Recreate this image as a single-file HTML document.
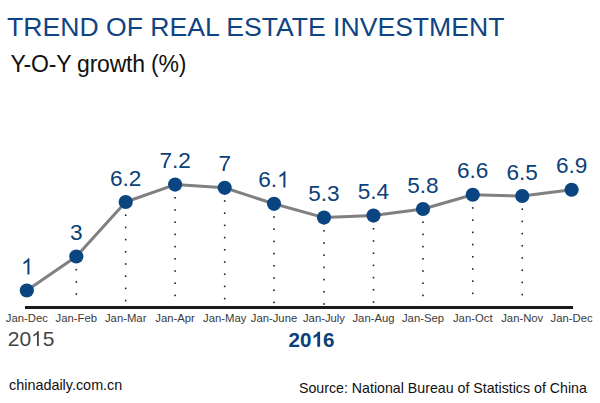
<!DOCTYPE html>
<html><head><meta charset="utf-8"><style>
html,body{margin:0;padding:0;background:#fff;width:600px;height:403px;overflow:hidden;position:relative;font-family:"Liberation Sans",sans-serif}
.t{position:absolute;white-space:nowrap;line-height:1}
.v{position:absolute;width:80px;text-align:center;font-size:22.6px;color:#0b4079;line-height:1;white-space:nowrap}
.xl{position:absolute;width:80px;text-align:center;font-size:11.3px;color:#3a3a3a;line-height:1;white-space:nowrap}
svg{position:absolute;left:0;top:0}
.one{position:relative;-webkit-text-fill-color:transparent}
.one svg{position:absolute;left:0;top:0;width:0.5562em;height:1.1172em;fill:currentColor}
</style></head><body>
<div class="t" style="left:7px;top:14px;font-size:26.6px;letter-spacing:0px;color:#0f4483">TREND OF REAL ESTATE INVESTMENT</div>
<div class="t" style="left:10.5px;top:52.5px;font-size:23px;letter-spacing:-0.2px;color:#111">Y-O-Y growth (%)</div>
<svg width="600" height="403" viewBox="0 0 600 403">
<rect x="75.50" y="268.90" width="1.6" height="1.6" fill="#222"/>
<rect x="75.50" y="281.10" width="1.6" height="1.6" fill="#222"/>
<rect x="75.50" y="293.30" width="1.6" height="1.6" fill="#222"/>
<rect x="124.90" y="214.40" width="1.6" height="1.6" fill="#222"/>
<rect x="124.90" y="226.60" width="1.6" height="1.6" fill="#222"/>
<rect x="124.90" y="238.80" width="1.6" height="1.6" fill="#222"/>
<rect x="124.90" y="251.00" width="1.6" height="1.6" fill="#222"/>
<rect x="124.90" y="263.20" width="1.6" height="1.6" fill="#222"/>
<rect x="124.90" y="275.40" width="1.6" height="1.6" fill="#222"/>
<rect x="124.90" y="287.60" width="1.6" height="1.6" fill="#222"/>
<rect x="124.90" y="299.80" width="1.6" height="1.6" fill="#222"/>
<rect x="174.30" y="197.00" width="1.6" height="1.6" fill="#222"/>
<rect x="174.30" y="209.20" width="1.6" height="1.6" fill="#222"/>
<rect x="174.30" y="221.40" width="1.6" height="1.6" fill="#222"/>
<rect x="174.30" y="233.60" width="1.6" height="1.6" fill="#222"/>
<rect x="174.30" y="245.80" width="1.6" height="1.6" fill="#222"/>
<rect x="174.30" y="258.00" width="1.6" height="1.6" fill="#222"/>
<rect x="174.30" y="270.20" width="1.6" height="1.6" fill="#222"/>
<rect x="174.30" y="282.40" width="1.6" height="1.6" fill="#222"/>
<rect x="174.30" y="294.60" width="1.6" height="1.6" fill="#222"/>
<rect x="223.90" y="200.20" width="1.6" height="1.6" fill="#222"/>
<rect x="223.90" y="212.40" width="1.6" height="1.6" fill="#222"/>
<rect x="223.90" y="224.60" width="1.6" height="1.6" fill="#222"/>
<rect x="223.90" y="236.80" width="1.6" height="1.6" fill="#222"/>
<rect x="223.90" y="249.00" width="1.6" height="1.6" fill="#222"/>
<rect x="223.90" y="261.20" width="1.6" height="1.6" fill="#222"/>
<rect x="223.90" y="273.40" width="1.6" height="1.6" fill="#222"/>
<rect x="223.90" y="285.60" width="1.6" height="1.6" fill="#222"/>
<rect x="223.90" y="297.80" width="1.6" height="1.6" fill="#222"/>
<rect x="273.20" y="216.20" width="1.6" height="1.6" fill="#222"/>
<rect x="273.20" y="228.40" width="1.6" height="1.6" fill="#222"/>
<rect x="273.20" y="240.60" width="1.6" height="1.6" fill="#222"/>
<rect x="273.20" y="252.80" width="1.6" height="1.6" fill="#222"/>
<rect x="273.20" y="265.00" width="1.6" height="1.6" fill="#222"/>
<rect x="273.20" y="277.20" width="1.6" height="1.6" fill="#222"/>
<rect x="273.20" y="289.40" width="1.6" height="1.6" fill="#222"/>
<rect x="273.20" y="301.60" width="1.6" height="1.6" fill="#222"/>
<rect x="323.20" y="230.00" width="1.6" height="1.6" fill="#222"/>
<rect x="323.20" y="242.20" width="1.6" height="1.6" fill="#222"/>
<rect x="323.20" y="254.40" width="1.6" height="1.6" fill="#222"/>
<rect x="323.20" y="266.60" width="1.6" height="1.6" fill="#222"/>
<rect x="323.20" y="278.80" width="1.6" height="1.6" fill="#222"/>
<rect x="323.20" y="291.00" width="1.6" height="1.6" fill="#222"/>
<rect x="323.20" y="303.20" width="1.6" height="1.6" fill="#222"/>
<rect x="372.70" y="228.00" width="1.6" height="1.6" fill="#222"/>
<rect x="372.70" y="240.20" width="1.6" height="1.6" fill="#222"/>
<rect x="372.70" y="252.40" width="1.6" height="1.6" fill="#222"/>
<rect x="372.70" y="264.60" width="1.6" height="1.6" fill="#222"/>
<rect x="372.70" y="276.80" width="1.6" height="1.6" fill="#222"/>
<rect x="372.70" y="289.00" width="1.6" height="1.6" fill="#222"/>
<rect x="372.70" y="301.20" width="1.6" height="1.6" fill="#222"/>
<rect x="422.20" y="221.40" width="1.6" height="1.6" fill="#222"/>
<rect x="422.20" y="233.60" width="1.6" height="1.6" fill="#222"/>
<rect x="422.20" y="245.80" width="1.6" height="1.6" fill="#222"/>
<rect x="422.20" y="258.00" width="1.6" height="1.6" fill="#222"/>
<rect x="422.20" y="270.20" width="1.6" height="1.6" fill="#222"/>
<rect x="422.20" y="282.40" width="1.6" height="1.6" fill="#222"/>
<rect x="422.20" y="294.60" width="1.6" height="1.6" fill="#222"/>
<rect x="471.95" y="207.15" width="1.6" height="1.6" fill="#222"/>
<rect x="471.95" y="219.35" width="1.6" height="1.6" fill="#222"/>
<rect x="471.95" y="231.55" width="1.6" height="1.6" fill="#222"/>
<rect x="471.95" y="243.75" width="1.6" height="1.6" fill="#222"/>
<rect x="471.95" y="255.95" width="1.6" height="1.6" fill="#222"/>
<rect x="471.95" y="268.15" width="1.6" height="1.6" fill="#222"/>
<rect x="471.95" y="280.35" width="1.6" height="1.6" fill="#222"/>
<rect x="471.95" y="292.55" width="1.6" height="1.6" fill="#222"/>
<rect x="521.45" y="208.40" width="1.6" height="1.6" fill="#222"/>
<rect x="521.45" y="220.60" width="1.6" height="1.6" fill="#222"/>
<rect x="521.45" y="232.80" width="1.6" height="1.6" fill="#222"/>
<rect x="521.45" y="245.00" width="1.6" height="1.6" fill="#222"/>
<rect x="521.45" y="257.20" width="1.6" height="1.6" fill="#222"/>
<rect x="521.45" y="269.40" width="1.6" height="1.6" fill="#222"/>
<rect x="521.45" y="281.60" width="1.6" height="1.6" fill="#222"/>
<rect x="521.45" y="293.80" width="1.6" height="1.6" fill="#222"/>
<rect x="25" y="306" width="548" height="3" fill="#1a1a1a"/>
<polyline points="26.8,290.5 76.3,256.5 125.7,202 175.1,184.6 224.7,187.8 274,203.8 324,217.6 373.5,215.6 423,209 472.75,194.75 522.25,196 571.6,189.75" fill="none" stroke="#808080" stroke-width="3" stroke-linejoin="round"/>
<circle cx="26.8" cy="290.5" r="7.1" fill="#0b4581"/>
<circle cx="76.3" cy="256.5" r="7.1" fill="#0b4581"/>
<circle cx="125.7" cy="202" r="7.1" fill="#0b4581"/>
<circle cx="175.1" cy="184.6" r="7.1" fill="#0b4581"/>
<circle cx="224.7" cy="187.8" r="7.1" fill="#0b4581"/>
<circle cx="274" cy="203.8" r="7.1" fill="#0b4581"/>
<circle cx="324" cy="217.6" r="7.1" fill="#0b4581"/>
<circle cx="373.5" cy="215.6" r="7.1" fill="#0b4581"/>
<circle cx="423" cy="209" r="7.1" fill="#0b4581"/>
<circle cx="472.75" cy="194.75" r="7.1" fill="#0b4581"/>
<circle cx="522.25" cy="196" r="7.1" fill="#0b4581"/>
<circle cx="571.6" cy="189.75" r="7.1" fill="#0b4581"/>
</svg>
<div class="v" style="left:-13.20px;top:256.07px"><span class="one">1<svg viewBox="0 -1854 1139 2288"><path transform="scale(1,-1)" d="M763 0H583V1147Q518 1085 412.5 1023Q307 961 223 930V1104Q374 1175 487 1276Q600 1377 647 1472H763Z"/></svg></span></div>
<div class="v" style="left:36.30px;top:222.07px">3</div>
<div class="v" style="left:85.70px;top:167.57px">6.2</div>
<div class="v" style="left:135.10px;top:150.17px">7.2</div>
<div class="v" style="left:184.70px;top:153.37px">7</div>
<div class="v" style="left:234.00px;top:169.37px">6.<span class="one">1<svg viewBox="0 -1854 1139 2288"><path transform="scale(1,-1)" d="M763 0H583V1147Q518 1085 412.5 1023Q307 961 223 930V1104Q374 1175 487 1276Q600 1377 647 1472H763Z"/></svg></span></div>
<div class="v" style="left:284.00px;top:183.17px">5.3</div>
<div class="v" style="left:333.50px;top:181.17px">5.4</div>
<div class="v" style="left:383.00px;top:174.57px">5.8</div>
<div class="v" style="left:432.75px;top:160.32px">6.6</div>
<div class="v" style="left:482.25px;top:161.57px">6.5</div>
<div class="v" style="left:531.60px;top:155.32px">6.9</div>
<div class="xl" style="left:-13.20px;top:313.43px">Jan-Dec</div>
<div class="xl" style="left:36.30px;top:313.43px">Jan-Feb</div>
<div class="xl" style="left:85.70px;top:313.43px">Jan-Mar</div>
<div class="xl" style="left:135.10px;top:313.43px">Jan-Apr</div>
<div class="xl" style="left:184.70px;top:313.43px">Jan-May</div>
<div class="xl" style="left:234.00px;top:313.43px">Jan-June</div>
<div class="xl" style="left:284.00px;top:313.43px">Jan-July</div>
<div class="xl" style="left:333.50px;top:313.43px">Jan-Aug</div>
<div class="xl" style="left:383.00px;top:313.43px">Jan-Sep</div>
<div class="xl" style="left:432.75px;top:313.43px">Jan-Oct</div>
<div class="xl" style="left:482.25px;top:313.43px">Jan-Nov</div>
<div class="xl" style="left:531.60px;top:313.43px">Jan-Dec</div>
<div class="t" style="left:7.8px;top:327.5px;font-size:21px;color:#444">20<span class="one">1<svg viewBox="0 -1854 1139 2288"><path transform="scale(1,-1)" d="M763 0H583V1147Q518 1085 412.5 1023Q307 961 223 930V1104Q374 1175 487 1276Q600 1377 647 1472H763Z"/></svg></span>5</div>
<div class="t" style="left:288.6px;top:330px;font-size:20.6px;font-weight:bold;color:#0b4079">20<span class="one">1<svg viewBox="0 -1854 1139 2288"><path transform="scale(1,-1)" d="M806 0H525V1059Q371 915 162 846V1101Q272 1137 401 1238Q530 1338 578 1472H806Z"/></svg></span>6</div>
<div class="t" style="left:9px;top:378px;font-size:14.4px;color:#111">chinadaily.com.cn</div>
<div class="t" style="left:299px;top:380.5px;font-size:14.2px;color:#111">Source: National Bureau of Statistics of China</div>
</body></html>
